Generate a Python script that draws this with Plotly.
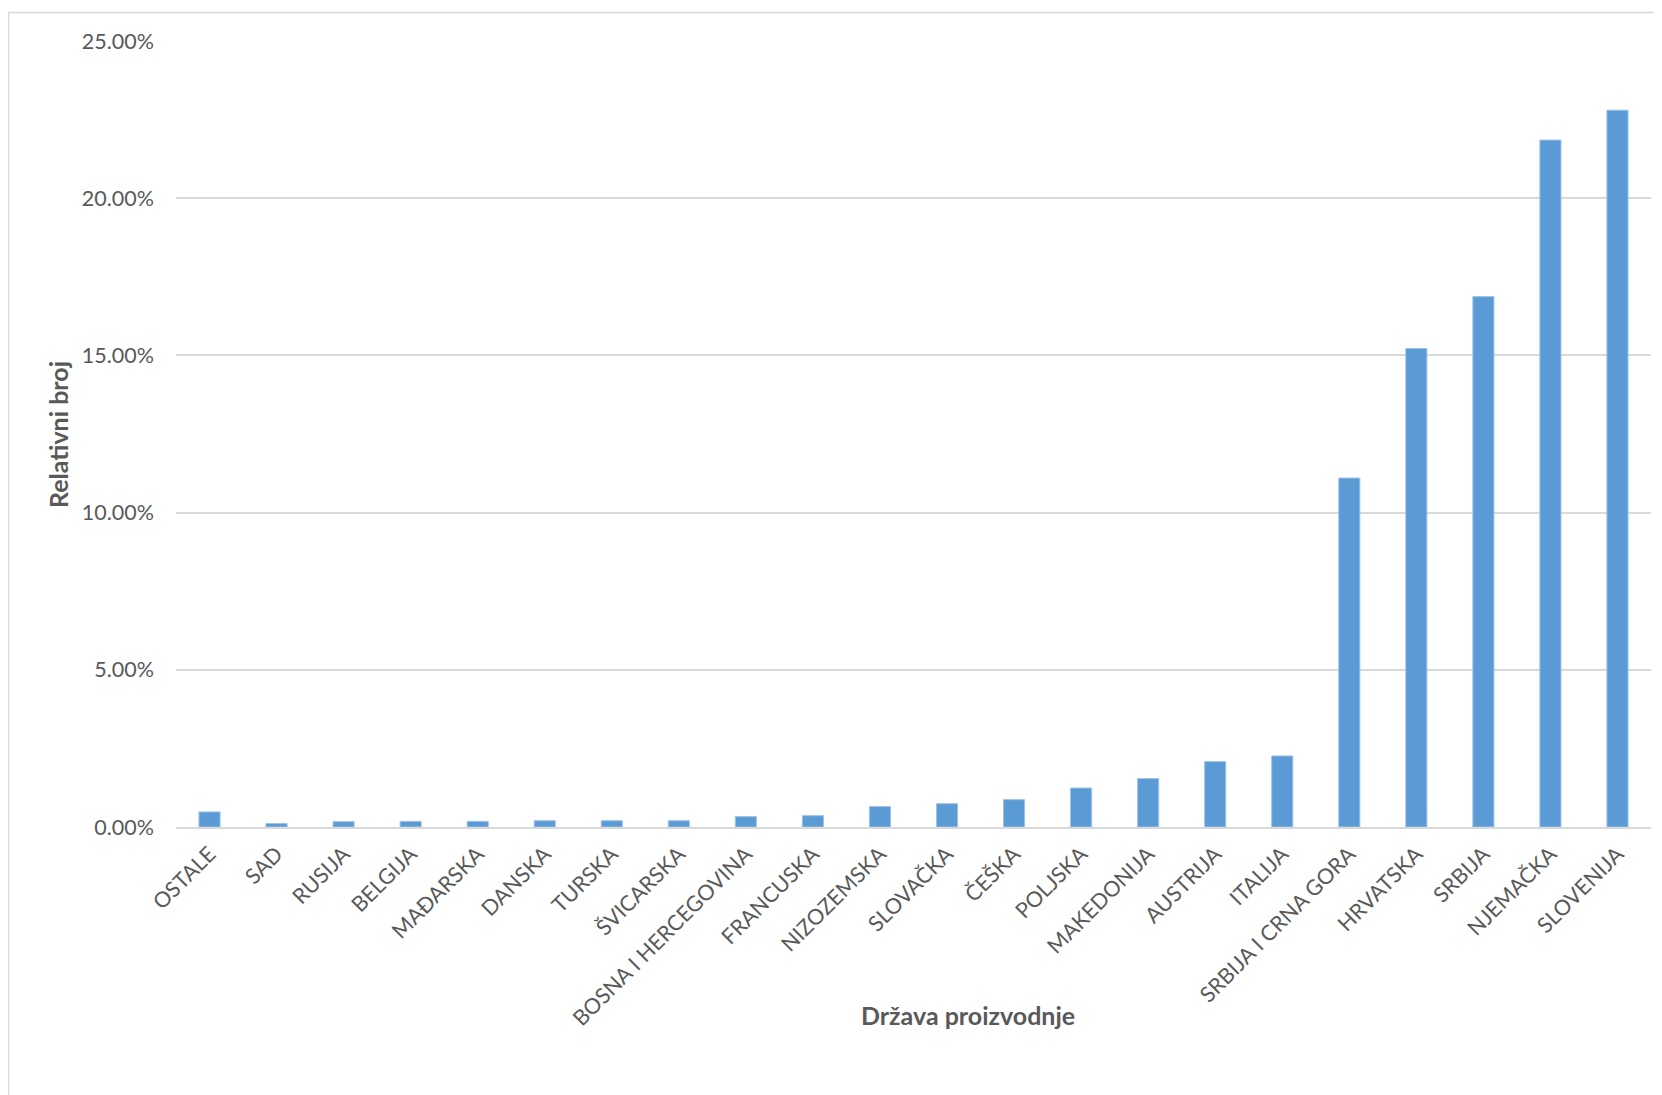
import plotly.graph_objects as go

# kategorije (države) i relativni broj u postocima
drzave = ['OSTALE', 'SAD', 'RUSIJA', 'BELGIJA', 'MAĐARSKA', 'DANSKA', 'TURSKA',
          'ŠVICARSKA', 'BOSNA I HERCEGOVINA', 'FRANCUSKA', 'NIZOZEMSKA', 'SLOVAČKA',
          'ČEŠKA', 'POLJSKA', 'MAKEDONIJA', 'AUSTRIJA', 'ITALIJA', 'SRBIJA I CRNA GORA',
          'HRVATSKA', 'SRBIJA', 'NJEMAČKA', 'SLOVENIJA']
postotak = [0.48, 0.11, 0.17, 0.18, 0.18, 0.20, 0.20,
            0.20, 0.33, 0.36, 0.65, 0.74,
            0.87, 1.24, 1.54, 2.08, 2.26, 11.10,
            15.22, 16.87, 21.85, 22.80]
y_tickovi = [0, 0.05, 0.10, 0.15, 0.20, 0.25]

relativni = [p / 100 for p in postotak]

# stranica ima 8px margine u pregledniku
OFF = 8
W, H = 1662 - OFF, 1095 - OFF
L, R, T, B = 176 - OFF, 11, 41 - OFF, 268
pw = W - L - R
ph = H - T - B

siva = '#595959'
font = 'Lato, Carlito, Calibri, sans-serif'


def px_x(x):
    return (x - OFF - L) / pw


def px_y(y):
    return (H - B - (y - OFF)) / ph


fig = go.Figure()
fig.add_trace(
    go.Bar(
        x=drzave, y=relativni,
        marker=dict(color='#5b9bd5', line=dict(color='#9dc3e6', width=1)),
    )
)

fig.update_layout(
    width=W, height=H,
    margin=dict(l=L, r=R, t=T, b=B),
    plot_bgcolor='white', paper_bgcolor='white',
    bargap=0.685,
    showlegend=False,
    font=dict(family=font, size=21, color=siva),
)
fig.update_xaxes(
    tickangle=-45,
    showline=True, linecolor='#d9d9d9', linewidth=2,
    showgrid=False,
    ticks='', ticklabelstandoff=4,
    tickfont=dict(size=21.5, color=siva),
)
fig.update_yaxes(
    range=[0, 0.25],
    tickvals=y_tickovi, tickformat='.2%',
    showgrid=True, gridcolor='#d9d9d9', gridwidth=1.5,
    zeroline=False, showline=False,
    ticks='', ticklabelstandoff=21,
    tickfont=dict(size=21.5, color=siva),
)

# naslovi osi
fig.add_annotation(
    text='<b>Država proizvodnje</b>', showarrow=False,
    xref='paper', yref='paper',
    x=px_x(968), y=px_y(1015),
    xanchor='center', yanchor='middle',
    font=dict(size=25, color=siva, family=font),
)
fig.add_annotation(
    text='<b>Relativni broj</b>', showarrow=False, textangle=-90,
    xref='paper', yref='paper',
    x=px_x(58), y=px_y(435),
    xanchor='center', yanchor='middle',
    font=dict(size=25, color=siva, family=font),
)

# okvir grafikona
fig.add_shape(
    type='rect', xref='paper', yref='paper',
    x0=px_x(8.5), x1=px_x(1700),
    y0=px_y(1130), y1=px_y(12.5),
    line=dict(color='#d9d9d9', width=1.5), layer='below',
)

fig.write_html("out.html")
